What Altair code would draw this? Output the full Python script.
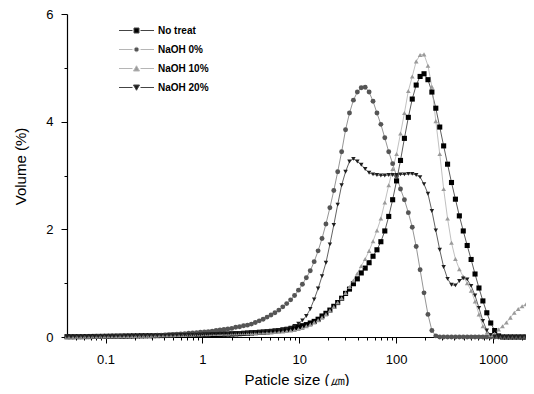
import altair as alt
import pandas as pd

sizes = [0.04, 0.044, 0.048, 0.053, 0.058, 0.064, 0.070, 0.077, 0.084, 0.093,
         0.102, 0.112, 0.122, 0.134, 0.148, 0.162, 0.178, 0.195, 0.214, 0.235,
         0.258, 0.284, 0.311, 0.342, 0.375, 0.412, 0.452, 0.496, 0.545, 0.598,
         0.657, 0.721, 0.791, 0.869, 0.953, 1.047, 1.149, 1.261, 1.385, 1.520,
         1.669, 1.832, 2.011, 2.208, 2.423, 2.660, 2.920, 3.206, 3.519, 3.863,
         4.240, 4.655, 5.110, 5.610, 6.158, 6.760, 7.421, 8.147, 8.943, 9.817,
         10.78, 11.83, 12.99, 14.26, 15.65, 17.18, 18.86, 20.71, 22.73, 24.95,
         27.39, 30.07, 33.01, 36.24, 39.78, 43.67, 47.94, 52.62, 57.77, 63.41,
         69.61, 76.42, 83.89, 92.09, 101.1, 111.0, 121.8, 133.7, 146.8, 161.2,
         176.9, 194.2, 213.2, 234.1, 256.9, 282.1, 309.6, 339.9, 373.1, 409.6,
         449.7, 493.6, 541.9, 594.9, 653.0, 716.9, 786.9, 863.9, 948.3, 1041,
         1143, 1255, 1377, 1512, 1660, 1822, 2000, 2196, 2411]

no_treat = [0.005, 0.005, 0.006, 0.006, 0.007, 0.008, 0.009, 0.010, 0.011, 0.012,
            0.013, 0.014, 0.015, 0.016, 0.017, 0.018, 0.019, 0.020, 0.021, 0.022,
            0.023, 0.024, 0.025, 0.026, 0.027, 0.028, 0.030, 0.031, 0.032, 0.034,
            0.035, 0.036, 0.037, 0.039, 0.040, 0.042, 0.043, 0.045, 0.047, 0.048,
            0.050, 0.052, 0.055, 0.058, 0.062, 0.066, 0.070, 0.075, 0.080, 0.085,
            0.090, 0.095, 0.100, 0.110, 0.120, 0.130, 0.140, 0.150, 0.170, 0.190,
            0.210, 0.230, 0.260, 0.290, 0.330, 0.390, 0.440, 0.500, 0.570, 0.640,
            0.720, 0.810, 0.890, 0.990, 1.080, 1.190, 1.280, 1.380, 1.500, 1.620,
            1.770, 1.970, 2.240, 2.550, 2.900, 3.280, 3.690, 4.080, 4.420, 4.680,
            4.840, 4.890, 4.780, 4.550, 4.250, 3.900, 3.550, 3.210, 2.870, 2.560,
            2.250, 1.970, 1.700, 1.440, 1.170, 0.910, 0.670, 0.450, 0.260, 0.120,
            0.020, 0, 0, 0, 0, 0, 0, 0, 0]

naoh0 = [0.003, 0.004, 0.004, 0.005, 0.005, 0.006, 0.006, 0.007, 0.008, 0.009,
         0.010, 0.011, 0.012, 0.013, 0.014, 0.015, 0.016, 0.018, 0.020, 0.022,
         0.024, 0.026, 0.029, 0.032, 0.035, 0.039, 0.043, 0.047, 0.052, 0.057,
         0.063, 0.070, 0.075, 0.080, 0.090, 0.095, 0.100, 0.110, 0.120, 0.130,
         0.140, 0.150, 0.160, 0.180, 0.190, 0.210, 0.220, 0.240, 0.270, 0.300,
         0.330, 0.370, 0.410, 0.450, 0.500, 0.560, 0.620, 0.690, 0.770, 0.870,
         0.980, 1.100, 1.230, 1.400, 1.600, 1.830, 2.100, 2.400, 2.720, 3.070,
         3.440, 3.850, 4.160, 4.400, 4.550, 4.630, 4.640, 4.550, 4.380, 4.160,
         3.950, 3.700, 3.440, 3.220, 2.990, 2.750, 2.550, 2.310, 2.040, 1.680,
         1.250, 0.820, 0.420, 0.120, 0.020, 0, 0, 0, 0, 0,
         0, 0, 0, 0, 0, 0, 0, 0, 0, 0,
         0, 0, 0, 0, 0, 0, 0, 0, 0]

naoh10 = [0.004, 0.005, 0.005, 0.006, 0.007, 0.008, 0.009, 0.010, 0.011, 0.012,
          0.013, 0.014, 0.015, 0.016, 0.017, 0.018, 0.020, 0.021, 0.022, 0.024,
          0.025, 0.026, 0.028, 0.029, 0.031, 0.032, 0.034, 0.035, 0.036, 0.038,
          0.040, 0.042, 0.044, 0.046, 0.048, 0.050, 0.052, 0.054, 0.056, 0.058,
          0.060, 0.062, 0.064, 0.066, 0.068, 0.070, 0.072, 0.074, 0.077, 0.080,
          0.083, 0.087, 0.091, 0.095, 0.100, 0.105, 0.110, 0.120, 0.130, 0.150,
          0.170, 0.200, 0.230, 0.270, 0.310, 0.360, 0.420, 0.490, 0.560, 0.640,
          0.720, 0.820, 0.930, 1.050, 1.180, 1.320, 1.450, 1.600, 1.780, 1.980,
          2.200, 2.500, 2.820, 3.120, 3.400, 3.780, 4.160, 4.570, 4.840, 5.120,
          5.240, 5.250, 5.040, 4.650, 4.010, 3.400, 2.750, 2.200, 1.750, 1.450,
          1.260, 1.120, 1.000, 0.860, 0.660, 0.420, 0.200, 0.080, 0.040, 0.060,
          0.140, 0.200, 0.270, 0.360, 0.450, 0.520, 0.570, 0.610, 0.640]

naoh20 = [0.005, 0.005, 0.006, 0.007, 0.007, 0.008, 0.009, 0.010, 0.011, 0.012,
          0.013, 0.014, 0.015, 0.016, 0.017, 0.018, 0.019, 0.020, 0.022, 0.023,
          0.024, 0.025, 0.026, 0.028, 0.029, 0.030, 0.032, 0.033, 0.035, 0.037,
          0.039, 0.041, 0.043, 0.045, 0.047, 0.050, 0.053, 0.056, 0.059, 0.062,
          0.065, 0.068, 0.071, 0.074, 0.077, 0.080, 0.085, 0.090, 0.095, 0.100,
          0.105, 0.110, 0.115, 0.120, 0.130, 0.140, 0.155, 0.175, 0.205, 0.245,
          0.310, 0.390, 0.520, 0.700, 0.900, 1.130, 1.380, 1.720, 2.080, 2.460,
          2.820, 3.070, 3.260, 3.310, 3.260, 3.200, 3.120, 3.050, 3.020, 3.010,
          3.000, 3.000, 3.010, 3.010, 3.010, 3.020, 3.020, 3.030, 3.030, 3.010,
          2.970, 2.840, 2.660, 2.340, 1.980, 1.620, 1.300, 1.080, 0.970, 0.960,
          1.040, 1.090, 1.070, 0.950, 0.770, 0.540, 0.300, 0.120, 0.040, 0.010,
          0, 0, 0, 0, 0, 0, 0, 0, 0]

series_names = ["No treat", "NaOH 0%", "NaOH 10%", "NaOH 20%"]
marker_shapes = ["square", "circle", "triangle-up", "triangle-down"]
marker_sizes = [26, 20, 34, 34]
marker_colors = ["#000000", "#555555", "#9a9a9a", "#1e1e1e"]
line_colors = ["#333333", "#7a7a7a", "#b0b0b0", "#3a3a3a"]
legend_line_colors = ["#444444", "#b5b5b5", "#b5b5b5", "#444444"]

x_ticks = [0.05, 0.06, 0.07, 0.08, 0.09, 0.1, 0.2, 0.3, 0.4, 0.5, 0.6, 0.7, 0.8, 0.9,
           1, 2, 3, 4, 5, 6, 7, 8, 9, 10, 20, 30, 40, 50, 60, 70, 80, 90,
           100, 200, 300, 400, 500, 600, 700, 800, 900, 1000, 2000]
y_ticks = [0, 1, 2, 3, 4, 5, 6]

rows = []
for name, vals in zip(series_names, [no_treat, naoh0, naoh10, naoh20]):
    for s, v in zip(sizes, vals):
        rows.append({"size": s, "volume": v, "series": name})
df = pd.DataFrame(rows)

seg = "M-3.5,0H-0.8M0.8,0H3.5"
legend_paths = [
    seg + "M-0.5,-0.5H0.5V0.5H-0.5Z",
    seg + "M0.45,0A0.45,0.45,0,1,1,-0.45,0A0.45,0.45,0,1,1,0.45,0Z",
    seg + "M0,-0.55L0.6,0.5L-0.6,0.5Z",
    seg + "M0,0.55L0.6,-0.5L-0.6,-0.5Z",
]

major_test = "indexof([0.1, 1, 10, 100, 1000], datum.value) >= 0"
x_enc = alt.X(
    "size:Q",
    scale=alt.Scale(type="log", domain=[0.04, 2193], nice=False),
    axis=alt.Axis(
        title="Paticle size (㎛)",
        values=x_ticks,
        labelExpr="indexof([0.1, 1, 10, 100, 1000], datum.value) >= 0 ? (datum.value == 0.1 ? '0.1' : format(datum.value, 'd')) : ''",
        tickSize={"condition": {"test": major_test, "value": 6}, "value": 3},
        grid=False,
        labelPadding=10,
        titleY=47,
        titleBaseline="alphabetic",
    ),
)
y_enc = alt.Y(
    "volume:Q",
    scale=alt.Scale(domain=[0, 6], nice=False),
    axis=alt.Axis(
        title="Volume (%)",
        values=y_ticks,
        labelExpr="datum.value % 2 == 0 ? datum.label : ''",
        tickSize={"condition": {"test": "datum.value % 2 == 0", "value": 6}, "value": 3},
        grid=False,
        labelPadding=8,
        titleX=-39,
        titleY=152,
    ),
)

lines = alt.Chart(df).mark_line(strokeWidth=0.8).encode(
    x=x_enc,
    y=y_enc,
    stroke=alt.Stroke("series:N", scale=alt.Scale(domain=series_names, range=line_colors), legend=None),
    detail="series:N",
)

points = alt.Chart(df).mark_point(filled=True, opacity=1).encode(
    x=x_enc,
    y=y_enc,
    shape=alt.Shape("series:N", scale=alt.Scale(domain=series_names, range=marker_shapes), legend=None),
    fill=alt.Fill("series:N", scale=alt.Scale(domain=series_names, range=marker_colors), legend=None),
    size=alt.Size("series:N", scale=alt.Scale(domain=series_names, range=marker_sizes), legend=None),
)

legend_layer = alt.Chart(df).transform_filter("datum.volume < -1").mark_point(
    filled=True, opacity=1, strokeWidth=1
).encode(
    x=x_enc,
    y=y_enc,
    shape=alt.Shape("series:N", scale=alt.Scale(domain=series_names, range=legend_paths), legend=alt.Legend(
        orient="none", legendX=64, legendY=11, title=None, padding=0,
        labelFont="Liberation Sans", labelFontSize=10, labelFontWeight="bold",
        symbolSize=100, symbolStrokeWidth=1, labelOffset=16, rowPadding=8,
    )),
    fill=alt.Fill("series:N", scale=alt.Scale(domain=series_names, range=marker_colors)),
    stroke=alt.Stroke("series:N", scale=alt.Scale(domain=series_names, range=legend_line_colors)),
)

chart = alt.layer(lines, points, legend_layer).resolve_scale(
    shape="independent", fill="independent", stroke="independent", size="independent"
).properties(
    width=459, height=323,
    autosize=alt.AutoSizeParams(type="none"),
    padding={"left": 59, "top": 6, "right": 0, "bottom": 49},
).configure_view(stroke=None).configure_axis(
    labelFont="Liberation Sans", titleFont="Liberation Sans",
    labelFontSize=13, titleFontSize=15, titleFontWeight="normal",
    labelColor="#000000", titleColor="#000000",
    domainColor="#000000", tickColor="#000000", domainWidth=1.2, tickWidth=1,
)

chart.save("out.html", embed_options={"renderer": "svg", "actions": False})
